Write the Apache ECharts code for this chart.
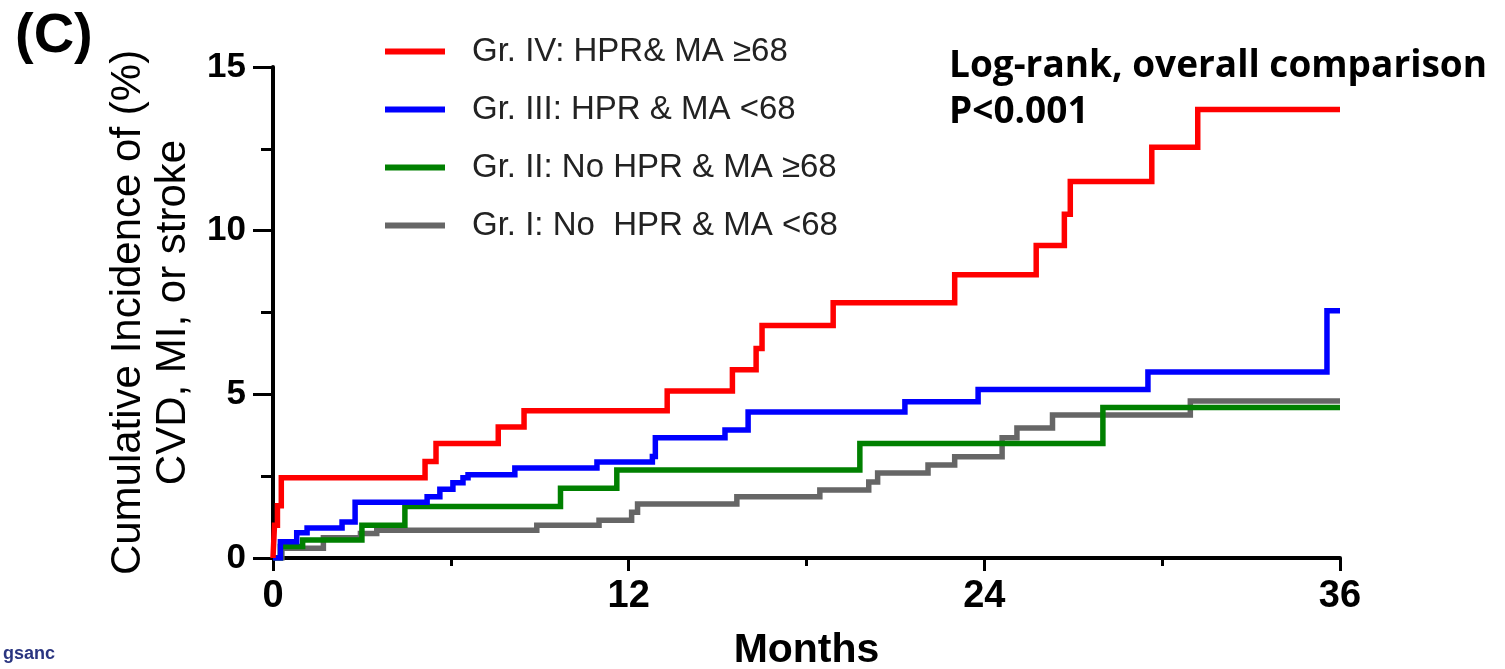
<!DOCTYPE html>
<html><head><meta charset="utf-8">
<script src="https://cdn.jsdelivr.net/npm/echarts@6/dist/echarts.min.js"></script>
<style>html,body{margin:0;padding:0;background:#fff}#c{width:1505px;height:669px}</style>
</head><body><div id="c"></div>
<script>
// Kaplan-Meier style cumulative incidence, [month, percent] at each event
const seriesNames = ['Gr. IV: HPR& MA \u226568', 'Gr. III: HPR & MA <68', 'Gr. II: No HPR & MA \u226568', 'Gr. I: No  HPR & MA <68'];
const seriesColors = ['#ff0000', '#0000ff', '#008000', '#666666'];
const grIV = [[0,0],[0.05,1.0],[0.15,1.6],[0.28,2.45],[5.13,2.95],[5.5,3.5],[7.6,4.0],[8.47,4.5],[13.3,5.1],[15.5,5.75],[16.3,6.4],[16.5,7.1],[18.9,7.8],[23.0,8.65],[25.75,9.55],[26.7,10.5],[26.9,11.5],[29.65,12.55],[31.2,13.7],[36,13.7]];
const grIII = [[0,0],[0.25,0.5],[0.8,0.77],[1.15,0.92],[2.33,1.1],[2.77,1.7],[5.2,1.87],[5.63,2.1],[6.07,2.3],[6.41,2.45],[6.58,2.54],[8.16,2.75],[10.93,2.93],[12.8,3.1],[12.9,3.67],[15.25,3.91],[16.03,4.46],[21.32,4.77],[23.79,5.15],[29.52,5.68],[35.56,7.55],[36,7.55]];
const grII = [[0,0],[0.25,0.35],[1.0,0.55],[3.0,1.0],[4.45,1.57],[9.7,2.13],[11.6,2.69],[19.8,3.5],[28.0,4.6],[36,4.6]];
const grI = [[0,0],[0.3,0.3],[1.7,0.62],[2.95,0.75],[3.5,0.85],[8.9,1.0],[11.0,1.15],[12.1,1.4],[12.3,1.65],[15.65,1.87],[18.45,2.08],[20.1,2.32],[20.4,2.6],[22.1,2.84],[23.0,3.09],[24.6,3.67],[25.1,3.97],[26.3,4.37],[30.95,4.8],[36,4.8]];
const xTicks = [0, 12, 24, 36];
const yTicks = [0, 5, 10, 15];

const F = 'Liberation Sans, Arial, sans-serif';
const chart = echarts.init(document.getElementById('c'));
const dataSets = [grIV, grIII, grII, grI];
const drawOrder = [3, 2, 1, 0];
chart.setOption({
  animation: false,
  backgroundColor: '#fff',
  grid: {left: 273, right: 165, top: 67, bottom: 111, containLabel: false, outerBoundsMode: 'none'},
  legend: {
    data: seriesNames, orient: 'vertical', left: 380, top: 30, itemGap: 25,
    itemWidth: 60, itemHeight: 6, icon: 'rect',
    textStyle: {fontFamily: F, fontSize: 33, color: '#222', padding: [0,0,0,22]}
  },
  title: [
    {text: '(C)', left: 10, top: 4, textStyle: {fontFamily: F, fontWeight: 'bold', fontSize: 56, color: '#000'}},
    {text: 'Log-rank, overall comparison\nP<0.001', left: 944, top: 38,
     textStyle: {fontFamily: 'Open Sans, Noto Sans, sans-serif', fontWeight: 'bold', fontSize: 37, lineHeight: 46, color: '#000'}},
    {text: 'gsanc', left: -2, top: 640, textStyle: {fontFamily: F, fontWeight: 'bold', fontSize: 18, color: '#2a3580'}}
  ],
  xAxis: {
    type: 'value', min: 0, max: 36, interval: 12,
    name: 'Months', nameLocation: 'middle', nameGap: 72,
    nameTextStyle: {fontFamily: F, fontWeight: 'bold', fontSize: 41, color: '#000'},
    axisLine: {onZero: false, lineStyle: {color: '#000', width: 4}},
    axisTick: {length: 13, lineStyle: {color: '#000', width: 3}},
    minorTick: {show: true, splitNumber: 2, length: 8, lineStyle: {color: '#000', width: 3}},
    axisLabel: {fontFamily: F, fontWeight: 'bold', fontSize: 38, color: '#000', margin: 20,
      formatter: v => xTicks.includes(v) ? String(v) : ''},
    splitLine: {show: false}
  },
  yAxis: {
    type: 'value', min: 0, max: 15, interval: 5,
    name: 'Cumulative Incidence of (%)\nCVD, MI, or stroke', nameLocation: 'middle', nameRotate: 90, nameGap: 74,
    nameTextStyle: {fontFamily: F, fontSize: 42, lineHeight: 45, color: '#000'},
    axisLine: {show: true, onZero: false, lineStyle: {color: '#000', width: 4}},
    axisTick: {show: true, length: 20, lineStyle: {color: '#000', width: 3}},
    minorTick: {show: true, splitNumber: 2, length: 12, lineStyle: {color: '#000', width: 3}},
    axisLabel: {fontFamily: F, fontWeight: 'bold', fontSize: 35, color: '#000', margin: 27,
      formatter: v => yTicks.includes(v) ? String(v) : ''},
    splitLine: {show: false}
  },
  series: drawOrder.map(i => ({
    name: seriesNames[i], type: 'line', step: 'end', data: dataSets[i],
    showSymbol: false, symbol: 'none', color: seriesColors[i],
    lineStyle: {width: 5.5, color: seriesColors[i], join: 'miter', cap: 'butt'}
  }))
});
</script></body></html>
